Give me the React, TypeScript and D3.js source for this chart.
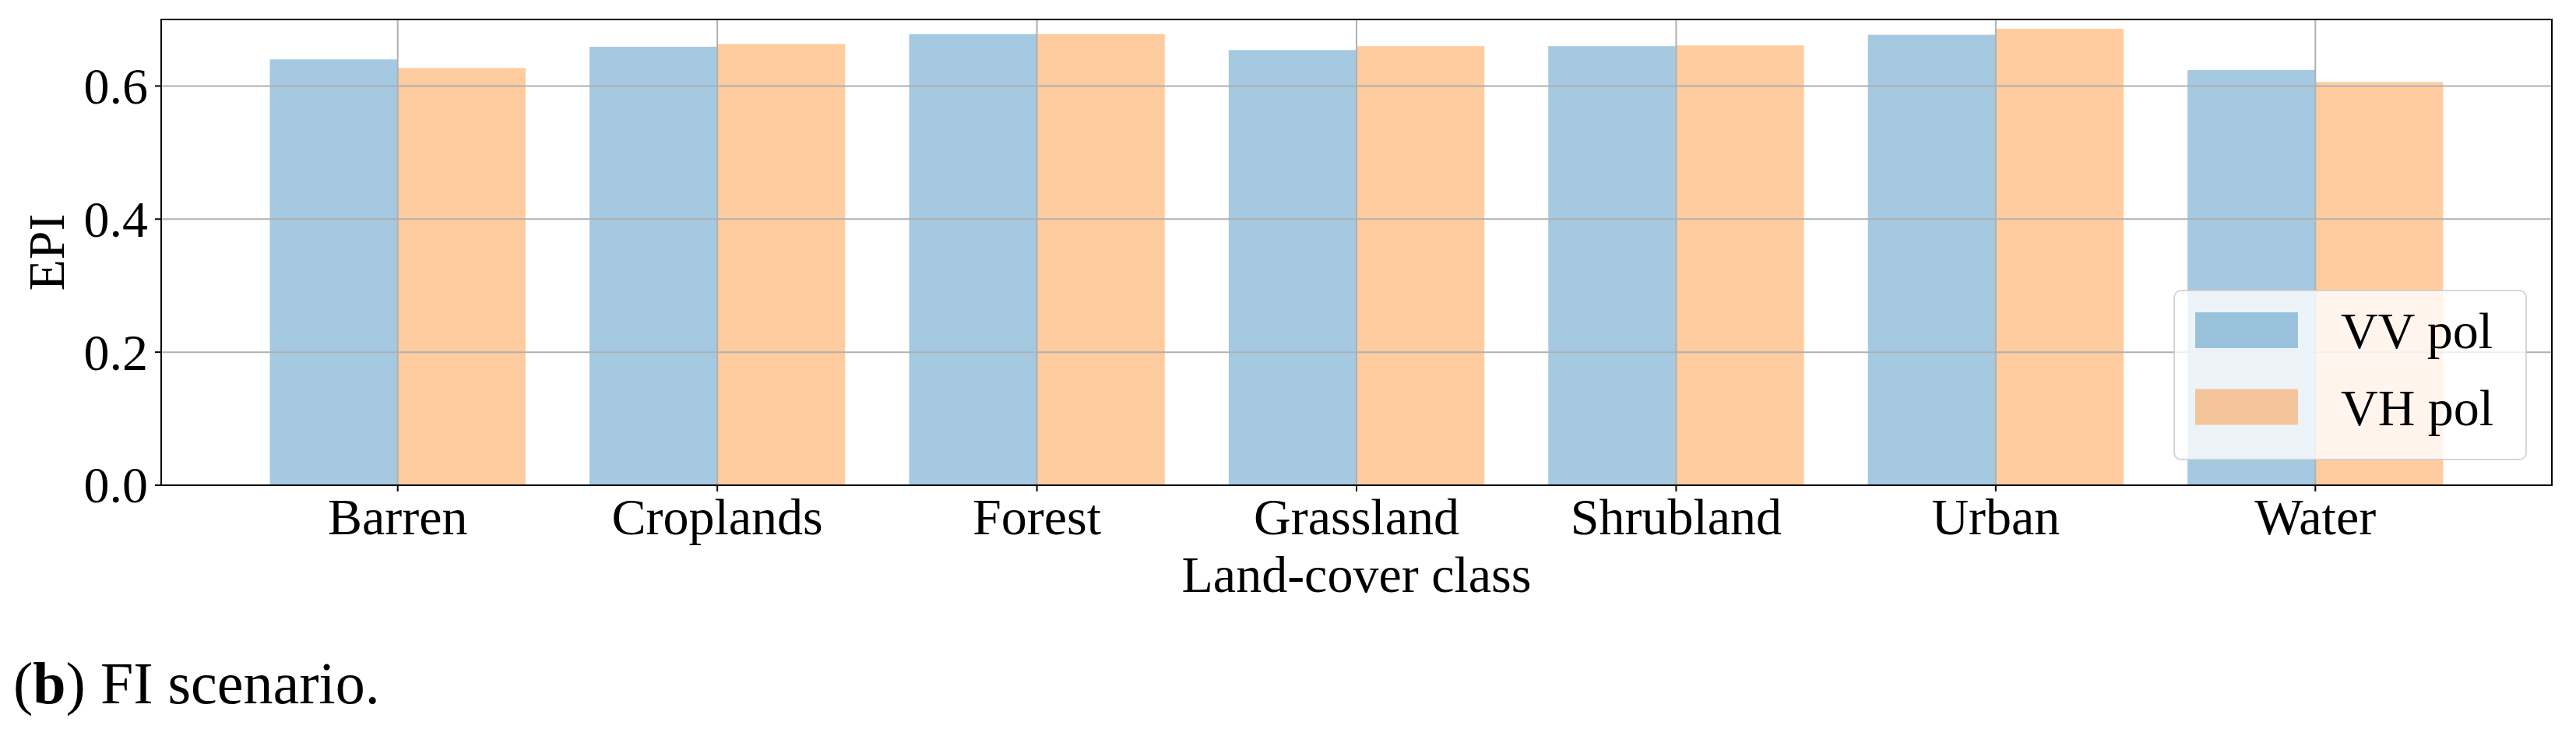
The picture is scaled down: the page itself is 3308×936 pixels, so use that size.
import React from "react"
import * as d3 from "d3"

// land-cover classes and EPI per polarisation (FI scenario)
const categories = ["Barren", "Croplands", "Forest", "Grassland", "Shrubland", "Urban", "Water"]
const vvValues = [0.640, 0.659, 0.678, 0.654, 0.660, 0.677, 0.624]
const vhValues = [0.627, 0.663, 0.678, 0.660, 0.661, 0.686, 0.606]
const seriesNames = ["VV pol", "VH pol"]
const yTicks = [0.0, 0.2, 0.4, 0.6]

const W = 3308, H = 936
const margin = { left: 207, right: 3277, top: 25, bottom: 623 }
const font = "'Liberation Serif', 'Times New Roman', serif"
const blue = "#1f77b4", orange = "#ff7f0e"

export default function App() {
  const barW = 0.4
  const x = d3.scaleLinear().domain([-0.74, categories.length - 1 + 0.74]).range([margin.left, margin.right])
  const y = d3.scaleLinear().domain([0, 0.7]).range([margin.bottom, margin.top])
  const bw = x(barW) - x(0)

  const series = [
    { name: seriesNames[0], values: vvValues, color: blue, off: -barW / 2 },
    { name: seriesNames[1], values: vhValues, color: orange, off: barW / 2 },
  ]

  const lg = { x: 2792, y: 373, w: 452, h: 217 }

  return (
    <svg width={W} height={H} style={{ position: "absolute", left: 0, top: 0, background: "#fff" }}
      fontFamily={font}>
      {/* bars */}
      {series.map(s =>
        s.values.map((v, i) => (
          <rect key={s.name + i} x={x(i + s.off) - bw / 2} y={y(v)} width={bw} height={y(0) - y(v)}
            fill={s.color} fillOpacity={0.4} />
        ))
      )}

      {/* grid on top of bars */}
      {yTicks.map(t => (
        <line key={"gy" + t} x1={margin.left} x2={margin.right} y1={y(t)} y2={y(t)} stroke="#b0b0b0" strokeWidth={2} />
      ))}
      {categories.map((c, i) => (
        <line key={"gx" + c} x1={x(i)} x2={x(i)} y1={margin.top} y2={margin.bottom} stroke="#b0b0b0" strokeWidth={2} />
      ))}

      {/* frame */}
      <rect x={margin.left} y={margin.top} width={margin.right - margin.left} height={margin.bottom - margin.top}
        fill="none" stroke="#000" strokeWidth={2} />

      {/* y ticks */}
      {yTicks.map(t => (
        <g key={"ty" + t}>
          <line x1={margin.left - 8} x2={margin.left} y1={y(t)} y2={y(t)} stroke="#000" strokeWidth={2} />
          <text x={margin.left - 17} y={y(t)} dy="0.34em" textAnchor="end" fontSize={66}>{t.toFixed(1)}</text>
        </g>
      ))}
      <text transform={`translate(82,${(margin.top + margin.bottom) / 2}) rotate(-90)`} textAnchor="middle" fontSize={66}>EPI</text>

      {/* x ticks */}
      {categories.map((c, i) => (
        <g key={"tx" + c}>
          <line x1={x(i)} x2={x(i)} y1={margin.bottom} y2={margin.bottom + 8} stroke="#000" strokeWidth={2} />
          <text x={x(i)} y={686} textAnchor="middle" fontSize={66}>{c}</text>
        </g>
      ))}
      <text x={(margin.left + margin.right) / 2} y={760} textAnchor="middle" fontSize={66}>Land-cover class</text>

      {/* legend */}
      <rect x={lg.x} y={lg.y} width={lg.w} height={lg.h} rx={9} fill="#fff" fillOpacity={0.8}
        stroke="#cccccc" strokeOpacity={0.8} strokeWidth={2} />
      {series.map((s, k) => (
        <g key={"lg" + s.name}>
          <rect x={2819} y={401 + k * 98.5} width={132} height={46} fill={s.color} fillOpacity={0.4} />
          <text x={3006} y={447 + k * 98.5} fontSize={66}>{s.name}</text>
        </g>
      ))}

      {/* caption */}
      <text x={17} y={903} fontSize={76}>
        <tspan>(</tspan><tspan fontWeight="bold">b</tspan><tspan>) FI scenario.</tspan>
      </text>
    </svg>
  )
}
